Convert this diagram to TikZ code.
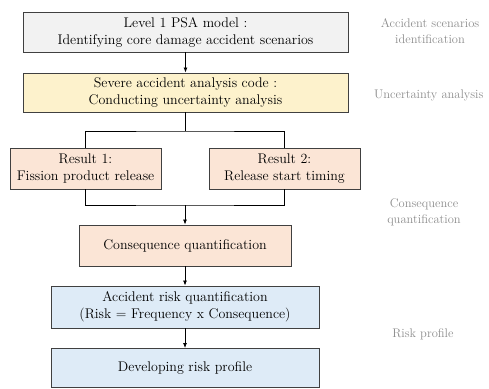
\documentclass[tikz,border=0pt]{standalone}
\usepackage{tikz}
\usetikzlibrary{positioning, arrows.meta}
\usepackage{xcolor}

\definecolor{psagray}{HTML}{F2F2F2}
\definecolor{codeyellow}{HTML}{FDF2CC}
\definecolor{resultpeach}{HTML}{FBE5D6}
\definecolor{riskblue}{HTML}{DEEBF7}

\begin{document}
\begin{tikzpicture}[
      x = 1pt, y = -1pt,
      box/.style        = {draw=black!75, line width=0.9pt, align=center, inner sep=0pt,
                           font=\fontsize{14}{17}\selectfont},
      side/.style       = {text=black!45, align=center, font=\fontsize{12.5}{16}\selectfont},
      arr/.style        = {-{Latex[length=5pt,width=4pt]}, line width=0.8pt},
      link/.style       = {line width=0.8pt}
    ]
    \useasboundingbox (0,0) rectangle (489,388);

    % main chain
    \node[box, fill=psagray, minimum width=325pt, minimum height=40pt] (psa) at (185.5,32)
      {Level 1 PSA model :\\Identifying core damage accident scenarios};
    \node[box, fill=codeyellow, minimum width=325pt, minimum height=39pt] (code) at (185.5,92.5)
      {Severe accident analysis code :\\Conducting uncertainty analysis};
    \node[box, fill=resultpeach, minimum width=151pt, minimum height=41pt] (res1) at (85.5,168.5)
      {Result 1:\\Fission product release};
    \node[box, fill=resultpeach, minimum width=151pt, minimum height=41pt] (res2) at (284.5,168.5)
      {Result 2:\\Release start timing};
    \node[box, fill=resultpeach, minimum width=212pt, minimum height=41pt] (cons) at (185,245.5)
      {Consequence quantification};
    \node[box, fill=riskblue, minimum width=268pt, minimum height=42pt] (risk) at (185,307)
      {Accident risk quantification\\(Risk = Frequency x Consequence)};
    \node[box, fill=riskblue, minimum width=268pt, minimum height=39pt] (prof) at (185,368)
      {Developing risk profile};

    % split and join
    \coordinate (split) at (185.5,131);
    \coordinate (join)  at (185,205);

    \draw[arr] (psa) -- (code);
    \draw[link] (code) -- (split);
    \draw[link] (res1.north) |- (split) -| (res2.north);
    \draw[link] (res1.south) |- (join) -| (res2.south);
    \draw[arr] (join) -- (cons);
    \draw[arr] (cons) -- (risk);
    \draw[arr] (risk) -- (prof);

    % stage labels
    \node[side] (lab1) at (430,31)  {Accident scenarios\\identification};
    \node[side, anchor=east] (lab2) at (487,95) {Uncertainty analysis};
    \node[side] (lab3) at (424,212) {Consequence\\quantification};
    \node[side] (lab4) at (423,334) {Risk profile};
  \end{tikzpicture}
\end{document}
